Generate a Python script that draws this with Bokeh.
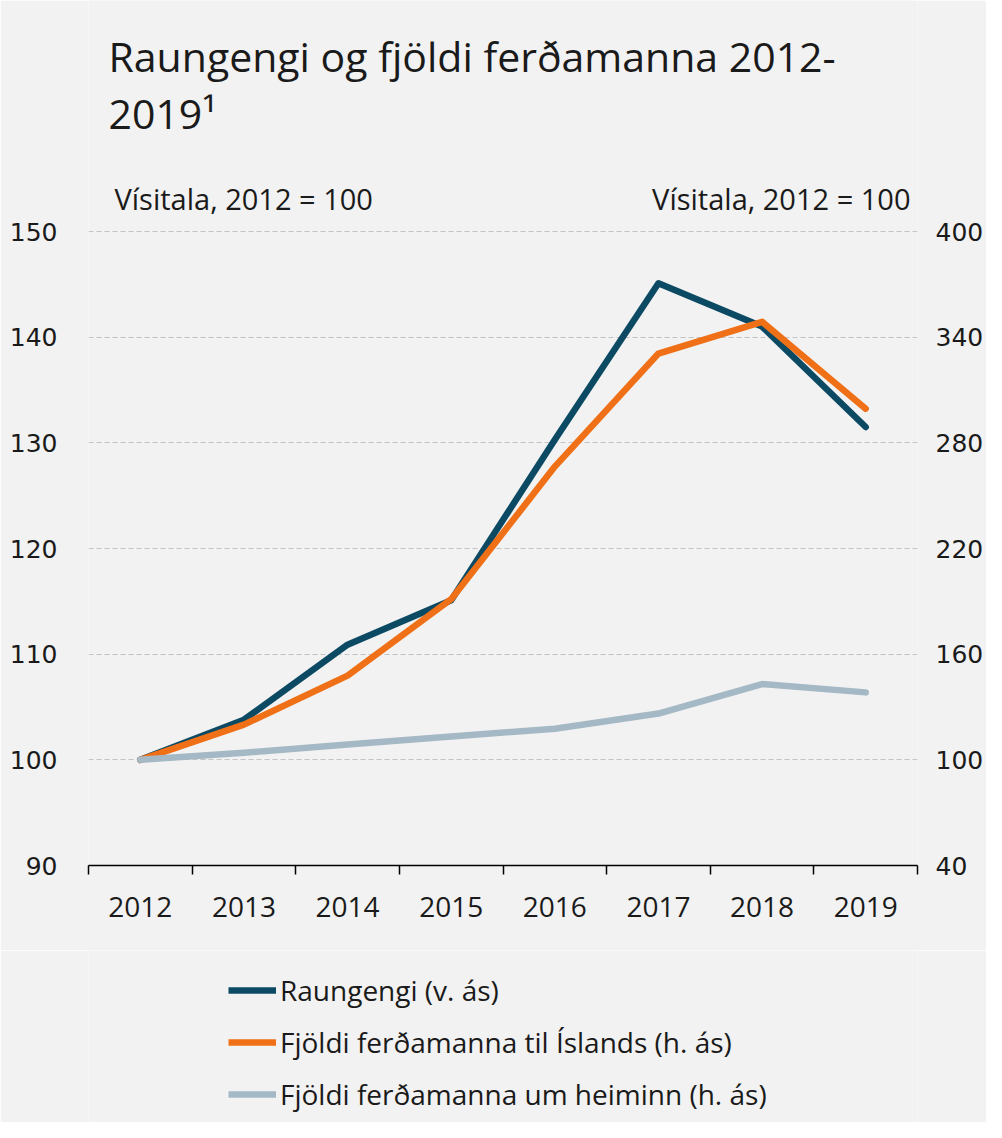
from bokeh.plotting import figure
from bokeh.layouts import column
from bokeh.models import Range1d, LinearAxis, FixedTicker, Label
from bokeh.embed import file_html
from bokeh.resources import INLINE

# ---- data ----
years = [2012, 2013, 2014, 2015, 2016, 2017, 2018, 2019]
raungengi = [100.0, 103.8, 110.9, 115.1, 130.3, 145.1, 141.0, 131.5]          # left axis
ferdamenn_island = [100.0, 120.0, 147.8, 191.2, 266.5, 330.7, 348.7, 299.4]   # right axis
ferdamenn_heimur = [100.0, 104.0, 108.7, 113.2, 117.7, 126.3, 143.0, 138.3]   # right axis
left_ticks = [90, 100, 110, 120, 130, 140, 150]
right_ticks = [40, 100, 160, 220, 280, 340, 400]

title_line1 = "Raungengi og fjöldi ferðamanna 2012-"
title_line2 = "2019¹"
unit_left = "Vísitala, 2012 = 100"
unit_right = "Vísitala, 2012 = 100"
series_names = ["Raungengi (v. ás)",
                "Fjöldi ferðamanna til Íslands (h. ás)",
                "Fjöldi ferðamanna um heiminn (h. ás)"]

# ---- style / layout ----
BG = "#f2f2f2"
TXT = "#1a1a1a"
COLORS = ["#0c4a64", "#ef7017", "#a4b9c5"]
LW = 6.5
SANS = "Open Sans"
AXF = "DejaVu Sans"

W, H = 986, 1122
H1 = 950               # chart part; the legend part takes the rest
AXIS_PX = 634          # pixels between lowest and highest tick
FRAME_PX = 865         # frame height (frame reaches the top of the canvas, texts live there)
ext = FRAME_PX / AXIS_PX
l_lo, l_hi = left_ticks[0], left_ticks[-1]
r_lo, r_hi = right_ticks[0], right_ticks[-1]

p = figure(width=W, height=H1,
           x_range=Range1d(years[0] - 0.5, years[-1] + 0.5),
           y_range=Range1d(l_lo, l_lo + (l_hi - l_lo) * ext),
           output_backend="svg", toolbar_location=None,
           min_border_left=88, min_border_right=68,
           min_border_top=0, min_border_bottom=H1 - FRAME_PX,
           background_fill_color=BG, border_fill_color=BG,
           outline_line_color=None)

p.extra_y_ranges = {"right": Range1d(r_lo, r_lo + (r_hi - r_lo) * ext)}

# x axis: labels at year centres, tick marks at the boundaries
boundaries = [y - 0.5 for y in years] + [years[-1] + 0.5]
xa = p.xaxis[0]
xa.ticker = FixedTicker(ticks=years, minor_ticks=boundaries)
xa.major_tick_in = 0
xa.major_tick_out = 0
xa.minor_tick_in = 0
xa.minor_tick_out = 9
xa.minor_tick_line_color = "black"
xa.minor_tick_line_width = 1.5
xa.axis_line_color = "black"
xa.axis_line_width = 1.5
xa.major_label_standoff = 22
xa.major_label_text_font = SANS
xa.major_label_text_font_size = "28px"
xa.major_label_text_color = TXT

# left axis
ya = p.yaxis[0]
ya.ticker = FixedTicker(ticks=left_ticks)
ya.axis_line_color = None
ya.major_tick_in = 0
ya.major_tick_out = 0
ya.minor_tick_line_color = None
ya.major_label_standoff = 31
ya.major_label_text_font = AXF
ya.major_label_text_font_size = "25px"
ya.major_label_text_color = TXT

# right axis
ra = LinearAxis(y_range_name="right", ticker=FixedTicker(ticks=right_ticks))
ra.axis_line_color = None
ra.major_tick_in = 0
ra.major_tick_out = 0
ra.minor_tick_line_color = None
ra.major_label_standoff = 18
ra.major_label_text_font = AXF
ra.major_label_text_font_size = "25px"
ra.major_label_text_color = TXT
p.add_layout(ra, "right")

# grid
p.xgrid.grid_line_color = None
p.ygrid.ticker = FixedTicker(ticks=left_ticks[1:])
p.ygrid.grid_line_color = "#c4c4c4"
p.ygrid.grid_line_dash = "5 3"
p.ygrid.grid_line_width = 1

# series
p.line(years, raungengi, line_color=COLORS[0], line_width=LW, line_cap="round",
       line_join="round")
p.line(years, ferdamenn_island, line_color=COLORS[1], line_width=LW, line_cap="round",
       line_join="round", y_range_name="right")
p.line(years, ferdamenn_heimur, line_color=COLORS[2], line_width=LW, line_cap="round",
       line_join="round", y_range_name="right")

# titles and unit labels (above the top tick, inside the canvas)
x0 = years[0] - 0.5
x1 = years[-1] + 0.5
p.add_layout(Label(x=x0, y=l_hi, x_offset=20, y_offset=176, text=title_line1,
                   text_font=SANS, text_font_size="41px", text_color=TXT,
                   text_baseline="alphabetic"))
p.add_layout(Label(x=x0, y=l_hi, x_offset=20, y_offset=119, text=title_line2,
                   text_font=SANS, text_font_size="41px", text_color=TXT,
                   text_baseline="alphabetic"))
p.add_layout(Label(x=x0, y=l_hi, x_offset=26, y_offset=33, text=unit_left,
                   text_font=SANS, text_font_size="29px", text_color=TXT,
                   text_baseline="alphabetic"))
p.add_layout(Label(x=x1, y=l_hi, x_offset=-7, y_offset=33, text=unit_right,
                   text_font=SANS, text_font_size="29px", text_color=TXT,
                   text_baseline="alphabetic", text_align="right"))

# ---- legend panel below the chart (its lines fall outside its own view) ----
H2 = H - H1
q = figure(width=W, height=H2, x_range=Range1d(0, 1), y_range=Range1d(0, 1),
           output_backend="svg", toolbar_location=None,
           x_axis_location=None, y_axis_location=None, min_border=0,
           background_fill_color=BG, border_fill_color=BG,
           outline_line_color=None)
q.grid.visible = False
for name, col, vals in zip(series_names, COLORS,
                           [raungengi, ferdamenn_island, ferdamenn_heimur]):
    q.line(years, vals, line_color=col, line_width=LW, legend_label=name)
lg = q.legend[0]
lg.location = (140, 8)
lg.border_line_color = None
lg.background_fill_alpha = 0
lg.label_text_font = SANS
lg.label_text_font_size = "28px"
lg.label_text_color = TXT
lg.glyph_width = 48
lg.glyph_height = 40
lg.label_height = 40
lg.spacing = 12
lg.padding = 0
lg.margin = 0
lg.label_standoff = 4

layout = column(p, q, spacing=0)
open("out.html", "w").write(file_html(layout, INLINE))
